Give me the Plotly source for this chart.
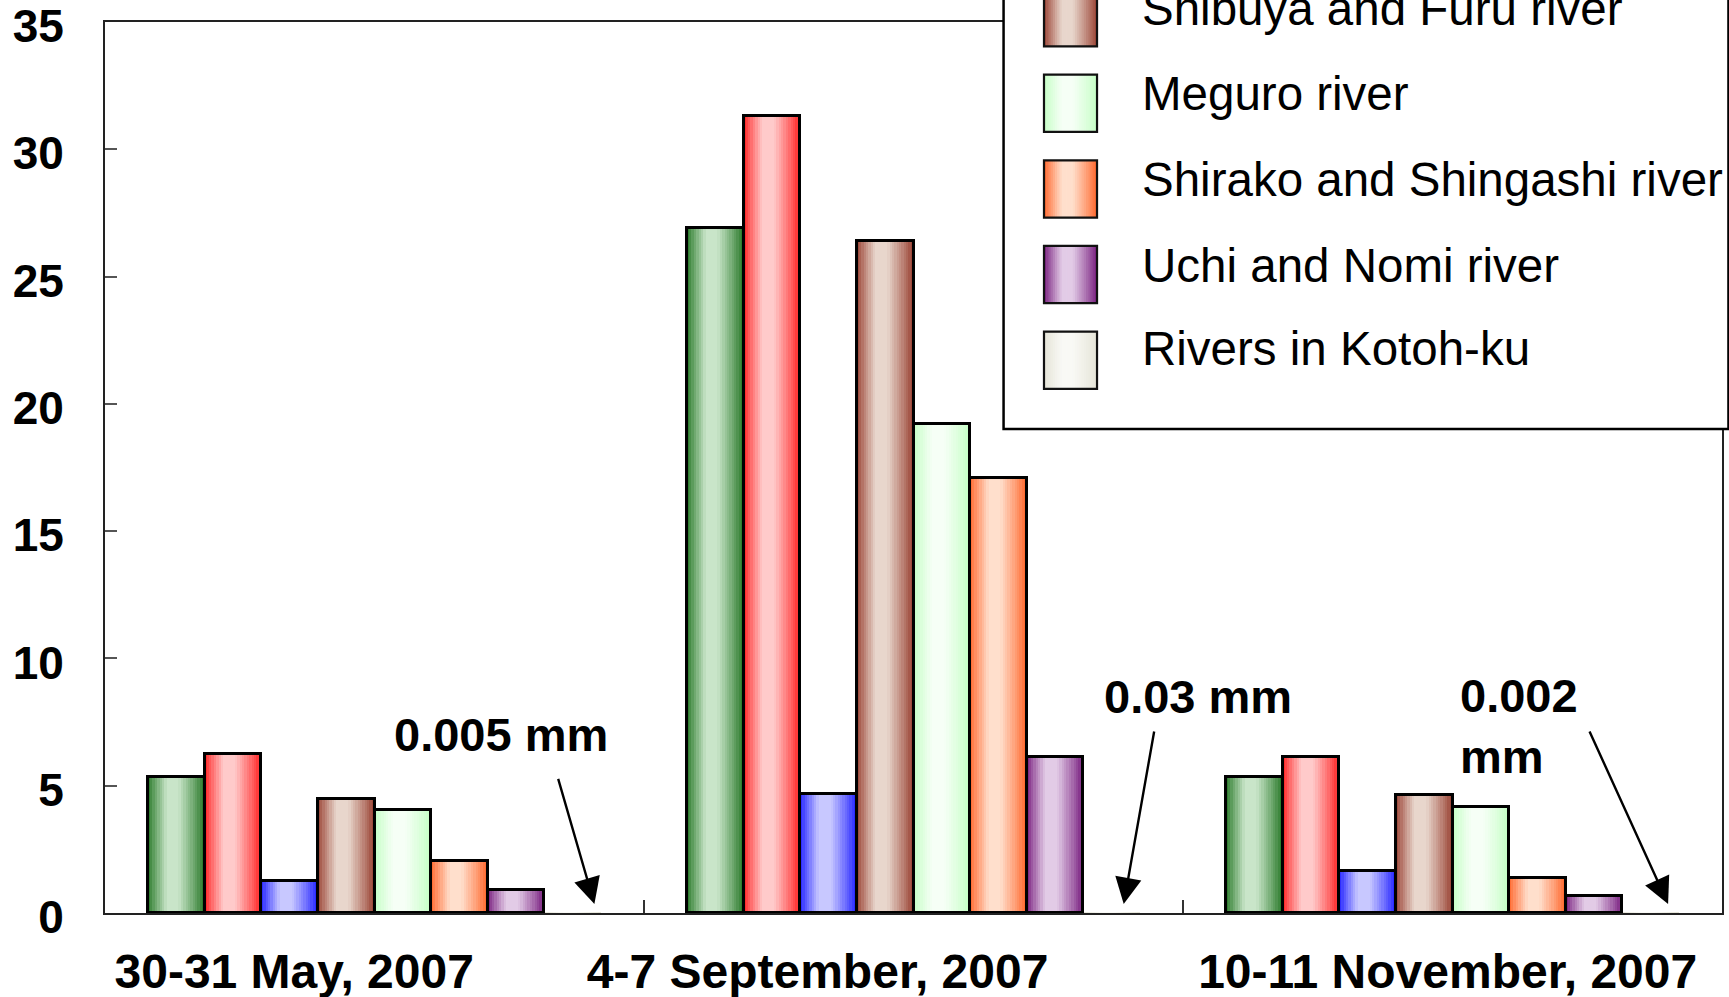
import plotly.graph_objects as go

# ---- data ---------------------------------------------------------------
periods = ["30-31 May, 2007", "4-7 September, 2007", "10-11 November, 2007"]
period_label_pos = [-0.149, 0.822, 1.991]

series_names = [
    "Series 1", "Series 2", "Series 3",
    "Shibuya and Furu river", "Meguro river", "Shirako and Shingashi river",
    "Uchi and Nomi river", "Rivers in Kotoh-ku",
]
vals_series1 = [5.35, 26.9, 5.35]
vals_series2 = [6.23, 31.3, 6.12]
vals_series3 = [1.27, 4.67, 1.65]
vals_shibuya_furu = [4.48, 26.4, 4.64]
vals_meguro = [4.06, 19.2, 4.18]
vals_shirako_shingashi = [2.03, 17.07, 1.37]
vals_uchi_nomi = [0.89, 6.12, 0.67]
vals_kotoh = [0.005, 0.03, 0.002]
kotoh_labels = ["0.005 mm", "0.03 mm", "0.002<br>mm"]

# (edge colour, centre colour) of each bar's horizontal gradient
palette = [
    ("#237523", "#c9e5c9"),
    ("#ff1f1f", "#ffcaca"),
    ("#2020ff", "#c8c8ff"),
    ("#983f30", "#e8d6cc"),
    ("#c4ffc4", "#f6fff6"),
    ("#ff6428", "#ffdfcc"),
    ("#761a7c", "#e2cbe6"),
    ("#e4e3d6", "#f9f9f5"),
]

all_vals = [vals_series1, vals_series2, vals_series3, vals_shibuya_furu,
            vals_meguro, vals_shirako_shingashi, vals_uchi_nomi, vals_kotoh]

FONT = "Liberation Sans, Arial, sans-serif"
BAR_W = 0.105
N_SLICE = 24


def hex_rgb(h):
    h = h.lstrip("#")
    return tuple(int(h[i:i + 2], 16) for i in (0, 2, 4))


def mix(c_edge, c_mid, f):
    a, b = hex_rgb(c_edge), hex_rgb(c_mid)
    return "rgb(%d,%d,%d)" % tuple(round(a[i] + (b[i] - a[i]) * f) for i in range(3))


def shade(s):
    # light plateau slightly left of centre, darker towards both edges
    if s < 0.34:
        f = s / 0.34
    elif s < 0.54:
        f = 1.0
    else:
        f = (1.0 - s) / 0.46
    return max(0.0, min(1.0, f)) ** 0.9


fig = go.Figure()

group_x = list(range(len(periods)))

# gradient fill: each bar is built from thin vertical slices
for i, (name, vals) in enumerate(zip(series_names, all_vals)):
    edge, mid = palette[i]
    offset = (i - 3.5) * BAR_W
    for k in range(N_SLICE):
        s = (k + 0.5) / N_SLICE
        xs = [g + offset - BAR_W / 2 + s * BAR_W for g in group_x]
        fig.add_trace(go.Bar(
            x=xs, y=vals, width=BAR_W / N_SLICE * 1.3,
            marker=dict(color=mix(edge, mid, shade(s)), line=dict(width=0)),
            name=name, showlegend=False, hoverinfo="skip",
        ))

# black outlines on top of all fills
for i, (name, vals) in enumerate(zip(series_names, all_vals)):
    offset = (i - 3.5) * BAR_W
    lw = 0 if name == "Rivers in Kotoh-ku" else 3
    fig.add_trace(go.Bar(
        x=[g + offset for g in group_x], y=vals, width=BAR_W,
        marker=dict(color="rgba(0,0,0,0)", line=dict(color="black", width=lw)),
        name=name, showlegend=False,
        hovertemplate="%{y}<extra>" + name + "</extra>",
    ))

# ---- arrows pointing at the tiny Kotoh-ku values -------------------------
arrow_tips = [(0.408, 0.35), (1.390, 0.35), (2.400, 0.35)]
arrow_tails = [(0.340, 5.33), (1.447, 7.19), (2.253, 7.19)]
label_pos = [(0.234, 7.02, "center"), (1.527, 8.49, "center"), (2.011, 7.36, "left")]

annotations = []
for (tx, ty), (sx, sy) in zip(arrow_tips, arrow_tails):
    annotations.append(dict(
        x=tx, y=ty, ax=sx, ay=sy, xref="x", yref="y", axref="x", ayref="y",
        text="", showarrow=True, arrowhead=2, arrowsize=2.2, arrowwidth=2.4,
        arrowcolor="black",
    ))
for (lx, ly, anchor), txt in zip(label_pos, kotoh_labels):
    annotations.append(dict(
        x=lx, y=ly, xref="x", yref="y", text=txt, showarrow=False,
        xanchor=anchor, yanchor="middle", align="left",
        font=dict(family=FONT, size=47, color="black", weight="bold"),
    ))

# ---- legend drawn as a boxed list (upper rows run off the top) ------------
shapes = []
LEG_X0, LEG_X1, LEG_Y0 = 0.5557, 1.004, 0.5432
shapes.append(dict(type="rect", xref="paper", yref="paper",
                   x0=LEG_X0, x1=LEG_X1, y0=LEG_Y0, y1=1.3,
                   fillcolor="white", line=dict(color="black", width=2.5),
                   layer="above"))
SW_X0, SW_X1 = 0.5807, 0.6135
SW_H = 0.0643
ROW_STEP = 0.0961
first_bottom = 0.9727
legend_rows = list(range(3, 8))
for r, i in enumerate(legend_rows):
    y0 = first_bottom - r * ROW_STEP
    y1 = y0 + SW_H
    edge, mid = palette[i]
    w = (SW_X1 - SW_X0) / N_SLICE
    for k in range(N_SLICE):
        s = (k + 0.5) / N_SLICE
        shapes.append(dict(type="rect", xref="paper", yref="paper",
                           x0=SW_X0 + k * w,
                           x1=min(SW_X1, SW_X0 + (k + 1.3) * w),
                           y0=y0, y1=y1, fillcolor=mix(edge, mid, shade(s)),
                           line=dict(width=0), layer="above"))
    shapes.append(dict(type="rect", xref="paper", yref="paper",
                       x0=SW_X0, x1=SW_X1, y0=y0, y1=y1,
                       fillcolor="rgba(0,0,0,0)",
                       line=dict(color="#111", width=2.2), layer="above"))
    annotations.append(dict(
        x=0.6401, y=y0 + SW_H / 2 + 0.0105 + (0.003 if r == 4 else 0),
        xref="paper", yref="paper",
        text=series_names[i], showarrow=False, xanchor="left", yanchor="middle",
        font=dict(family=FONT, size=47.5, color="black"),
    ))

fig.update_layout(
    width=1729, height=997,
    margin=dict(l=105, r=7, t=22, b=84),
    barmode="overlay", bargap=0,
    plot_bgcolor="white", paper_bgcolor="white",
    showlegend=False,
    shapes=shapes, annotations=annotations,
    xaxis=dict(
        range=[-0.5, 2.5], tickmode="array",
        tickvals=period_label_pos, ticktext=periods,
        ticks="", showgrid=False, zeroline=False, automargin=False,
        showline=True, linecolor="#222", linewidth=2, mirror=True,
        tickfont=dict(family=FONT, size=48, color="black", weight="bold"),
        ticklabelstandoff=15, ticklabeloverflow="allow",
        minor=dict(tickmode="array", tickvals=[0.5, 1.5], ticks="inside",
                   ticklen=13, tickwidth=1.5, tickcolor="#333", showgrid=False),
    ),
    yaxis=dict(
        range=[0, 35], tickmode="array", tickvals=[0, 5, 10, 15, 20, 25, 30, 35],
        ticks="inside", ticklen=12, tickwidth=1.5, tickcolor="#555",
        showgrid=False, zeroline=False, automargin=False,
        showline=True, linecolor="#222", linewidth=2, mirror=True,
        tickfont=dict(family=FONT, size=46, color="black", weight="bold"),
        ticklabelstandoff=30, ticklabelshift=4, ticklabeloverflow="allow",
    ),
)

fig.write_html("out.html")
